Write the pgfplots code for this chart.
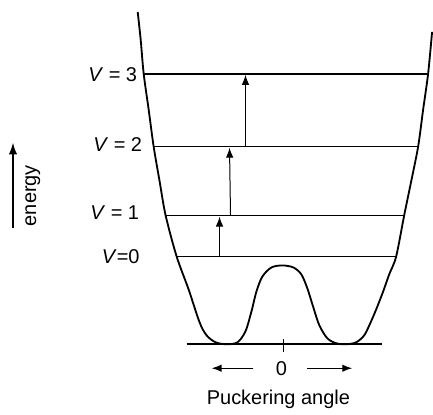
\documentclass[border=0pt]{standalone}
\usepackage{fontspec}
\setmainfont{Liberation Sans}
\usepackage{pgfplots}
\pgfplotsset{compat=1.18}
\usetikzlibrary{arrows.meta}
\begin{document}
\begin{tikzpicture}[every node/.style={font=\fontsize{12}{14}\selectfont}]
\begin{axis}[
  scale only axis, width=259.8pt, height=246.6pt,
  xmin=0, xmax=433, ymin=0, ymax=411, y dir=reverse,
  axis lines=none, clip=false,
]
% invisible frame
\addplot[draw=none] coordinates {(0,0) (433,411)};
% potential curve (double well)
\addplot[black, line width=1.1pt, smooth, tension=0.5] coordinates {
(138,12) (141,40) (144,74) (149,110) (154,147) (160,182) (166,216)
(177,257) (189,290) (200,323) (207,336) (216,343) (227,345)
(238,343) (246,332) (252,312) (257,292) (263,277) (272,268) (283,266)
(294,268) (302,275) (308,289) (314,308) (320,326) (328,339) (337,344)
(347,345) (357,343) (365,336) (371,324) (377,310) (384,292) (390,275)
(397,257) (405,216) (412,182) (419,147) (424,110) (429,74) (433,32)
};
% baseline and tick
\addplot[black, line width=1.1pt] coordinates {(187,345) (383,345)};
\addplot[black, line width=0.8pt] coordinates {(284,340) (284,353)};
% energy levels
\addplot[black, line width=0.9pt] coordinates {(144,74) (429,74)};
\addplot[black, line width=0.9pt] coordinates {(154,147) (419,147)};
\addplot[black, line width=0.9pt] coordinates {(166,216) (405,216)};
\addplot[black, line width=0.9pt] coordinates {(177,257) (397,257)};
% transition arrows
\addplot[black, line width=0.6pt, -{Latex[length=6pt,width=4.5pt]}] coordinates {(220,257) (220,217)};
\addplot[black, line width=0.6pt, -{Latex[length=6pt,width=4.5pt]}] coordinates {(231,216) (230,148)};
\addplot[black, line width=0.6pt, -{Latex[length=6pt,width=4.5pt]}] coordinates {(246,147) (246,75)};
% energy arrow
\addplot[black, line width=0.8pt, -{Latex[length=7pt,width=5pt]}] coordinates {(13,228) (13,143)};
% bottom arrows
\addplot[black, line width=0.8pt, -{Latex[length=6pt,width=4.5pt]}] coordinates {(254,369) (212,369)};
\addplot[black, line width=0.8pt, -{Latex[length=6pt,width=4.5pt]}] coordinates {(308,369) (353,369)};
% labels
\node at (axis cs:113,75) {\textit{V} = 3};
\node at (axis cs:118,145) {\textit{V} = 2};
\node at (axis cs:115,213) {\textit{V} = 1};
\node at (axis cs:121,257) {\textit{V}=0};
\node at (axis cs:282,369) {0};
\node at (axis cs:279,400) {Puckering angle};
\node[rotate=90] at (axis cs:33,196) {energy};
\end{axis}
\end{tikzpicture}
\end{document}
